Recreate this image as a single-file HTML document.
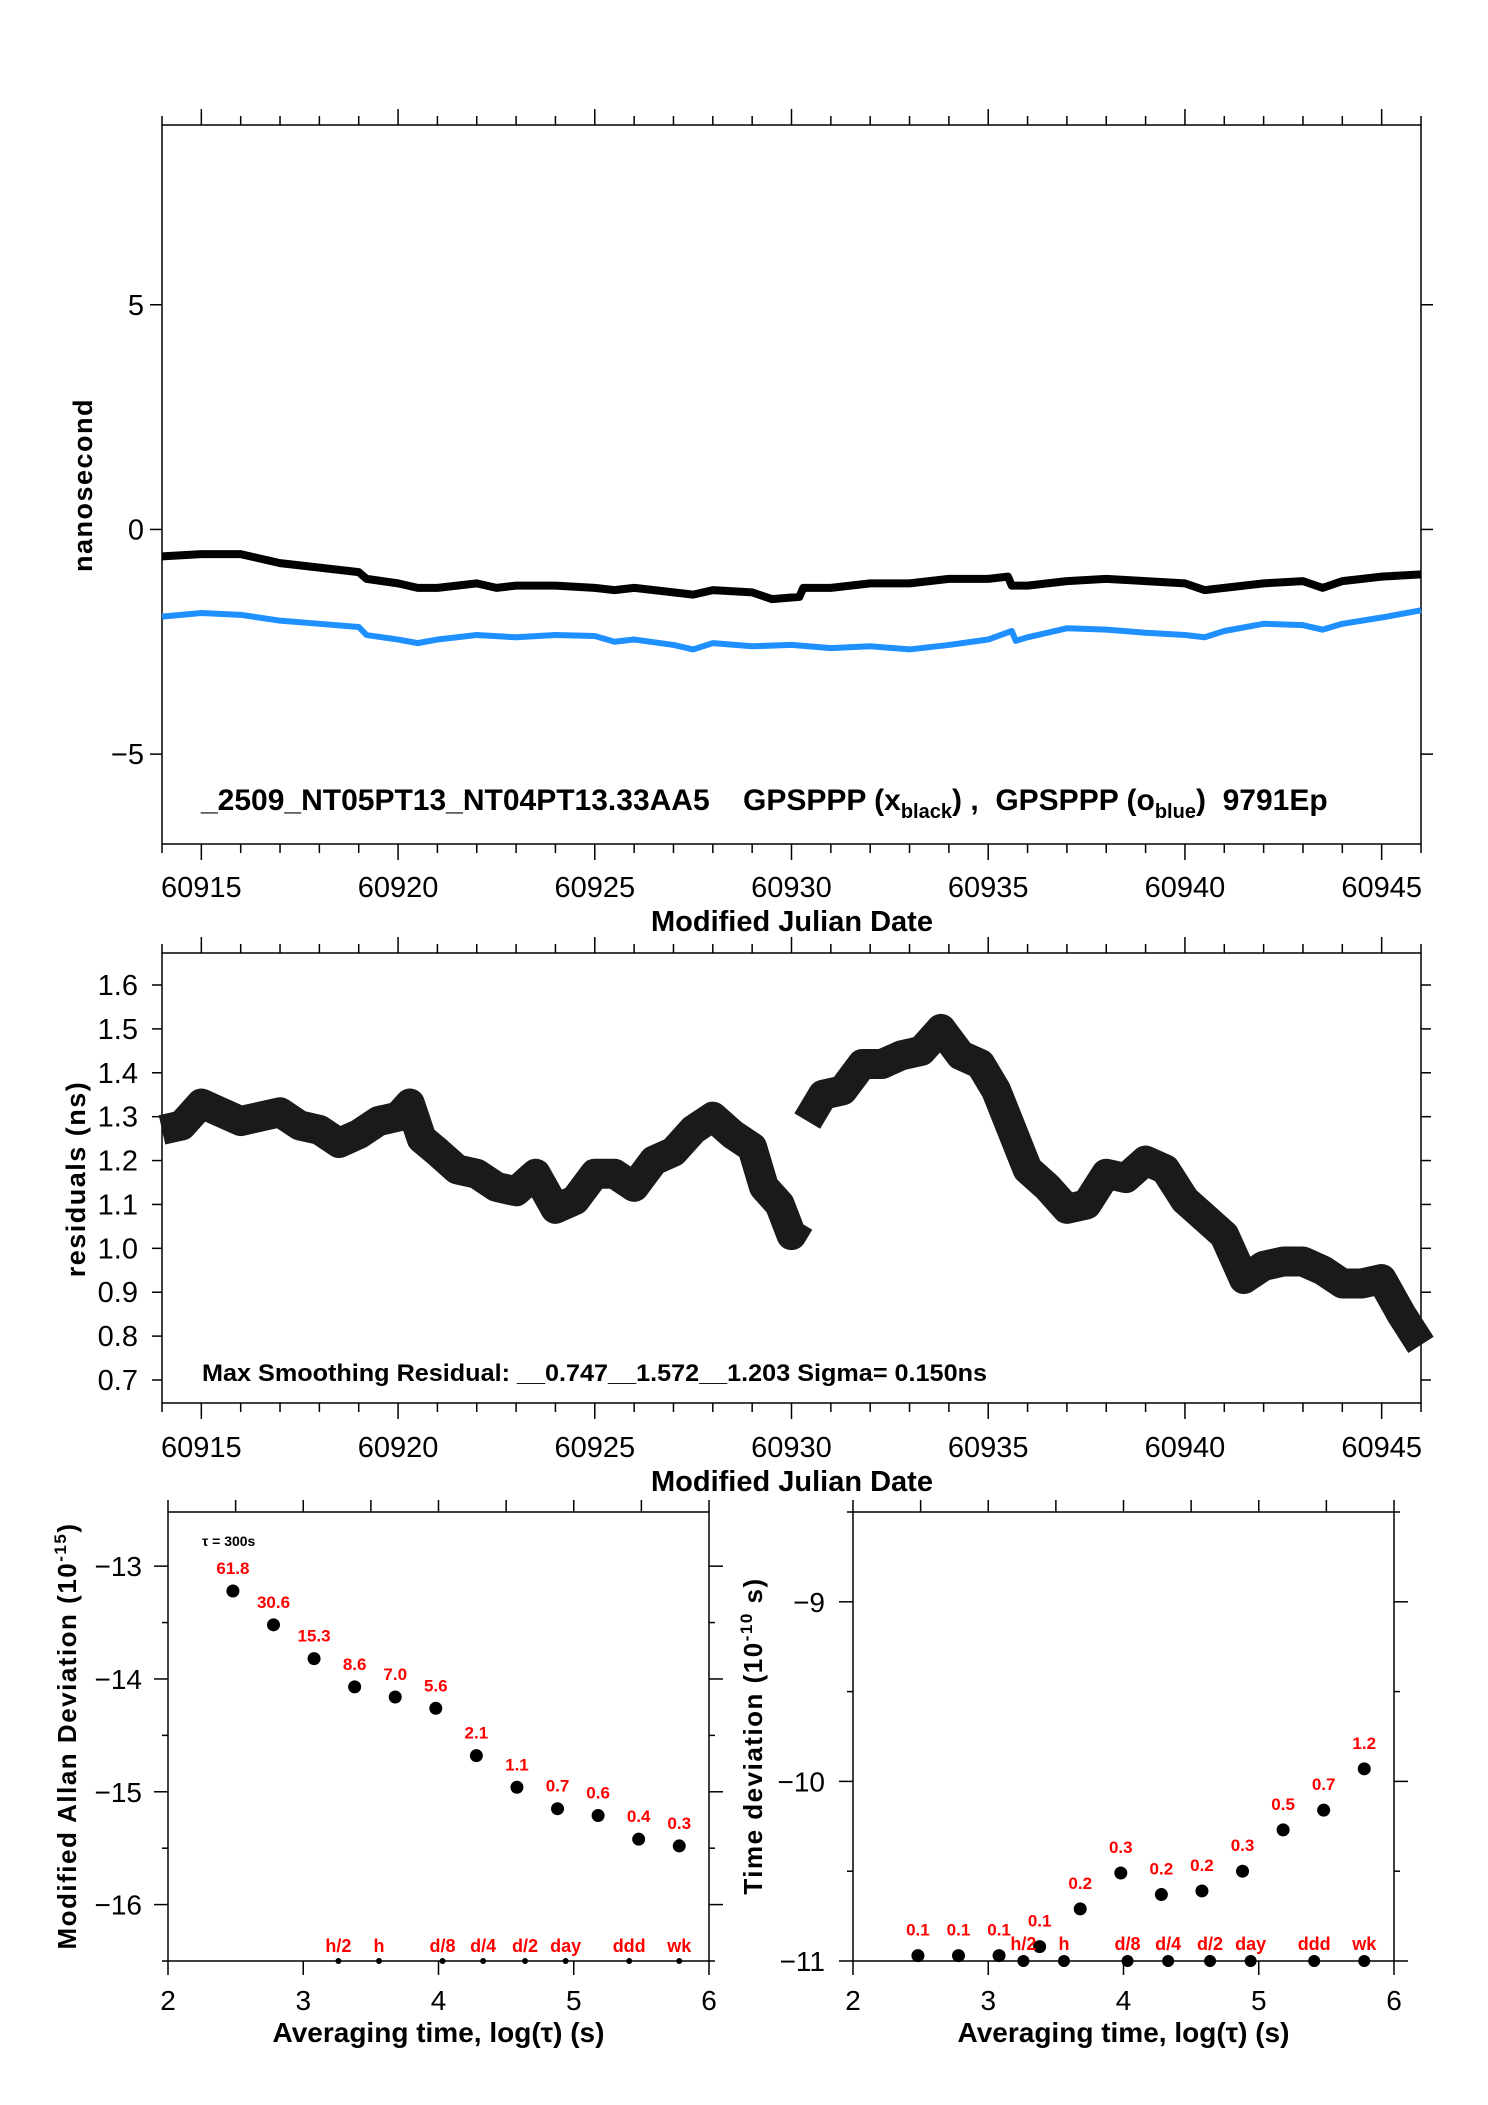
<!DOCTYPE html>
<html><head><meta charset="utf-8"><style>
html,body{margin:0;padding:0;background:#fff;}
svg{display:block;font-family:"Liberation Sans",sans-serif;}
</style></head><body>
<svg id="fig" width="1488" height="2105" viewBox="0 0 1488 2105" xmlns="http://www.w3.org/2000/svg">
<g id="g1"></g>
<g id="g2"></g>
<g id="g3"></g>
<g id="g4"></g>
</svg>
<script>
// ---- Data: phase chart ----
const phaseBlackX=[60914,60915,60916,60917,60918,60919,60919.2,60920,60920.5,60921,60922,60922.5,60923,60924,60925,60925.5,60926,60927,60927.5,60928,60929,60929.5,60930.2,60930.3,60931,60932,60933,60934,60935,60935.5,60935.6,60936,60937,60938,60939,60940,60940.5,60941,60942,60943,60943.5,60944,60945,60946];
const phaseBlackY=[-0.6,-0.55,-0.55,-0.75,-0.85,-0.95,-1.1,-1.2,-1.3,-1.3,-1.2,-1.3,-1.25,-1.25,-1.3,-1.35,-1.3,-1.4,-1.45,-1.35,-1.4,-1.55,-1.5,-1.3,-1.3,-1.2,-1.2,-1.1,-1.1,-1.05,-1.25,-1.25,-1.15,-1.1,-1.15,-1.2,-1.35,-1.3,-1.2,-1.15,-1.3,-1.15,-1.05,-1.0];
const phaseBlueX=[60914,60915,60916,60917,60918,60919,60919.2,60920,60920.5,60921,60922,60923,60924,60925,60925.5,60926,60927,60927.5,60928,60929,60930,60931,60932,60933,60934,60935,60935.6,60935.7,60936,60937,60938,60939,60940,60940.5,60941,60942,60943,60943.5,60944,60945,60946];
const phaseBlueY=[-1.94,-1.86,-1.9,-2.03,-2.1,-2.17,-2.35,-2.45,-2.53,-2.45,-2.35,-2.4,-2.35,-2.37,-2.5,-2.45,-2.57,-2.67,-2.53,-2.6,-2.57,-2.64,-2.6,-2.67,-2.57,-2.45,-2.26,-2.48,-2.4,-2.2,-2.23,-2.3,-2.35,-2.4,-2.26,-2.1,-2.13,-2.23,-2.1,-1.96,-1.8];
const phaseYTicks=[-5,0,5];
const mjdTicks=[60915,60920,60925,60930,60935,60940,60945];
// ---- Data: residuals ----
const resX1=[60914,60914.5,60915,60915.5,60916,60916.5,60917,60917.5,60918,60918.5,60919,60919.5,60920,60920.3,60920.6,60921,60921.5,60922,60922.5,60923,60923.5,60924,60924.5,60925,60925.5,60926,60926.5,60927,60927.5,60928,60928.5,60929,60929.3,60929.7,60930,60930.2];
const resY1=[1.27,1.28,1.33,1.31,1.29,1.30,1.31,1.28,1.27,1.24,1.26,1.29,1.30,1.33,1.25,1.22,1.18,1.17,1.14,1.13,1.17,1.09,1.11,1.17,1.17,1.14,1.20,1.22,1.27,1.30,1.26,1.23,1.14,1.10,1.03,1.06];
const resX2=[60930.4,60930.8,60931.3,60931.8,60932.3,60932.8,60933.3,60933.8,60934.3,60934.8,60935.2,60935.6,60936,60936.5,60937,60937.5,60938,60938.5,60939,60939.5,60940,60940.5,60941,60941.5,60942,60942.5,60943,60943.5,60944,60944.5,60945,60945.5,60946];
const resY2=[1.29,1.35,1.36,1.42,1.42,1.44,1.45,1.50,1.44,1.42,1.36,1.27,1.18,1.14,1.09,1.10,1.17,1.16,1.20,1.18,1.11,1.07,1.03,0.93,0.96,0.97,0.97,0.95,0.92,0.92,0.93,0.85,0.78];
const resYTicks=[0.7,0.8,0.9,1.0,1.1,1.2,1.3,1.4,1.5,1.6];
const resYLabels=["0.7","0.8","0.9","1.0","1.1","1.2","1.3","1.4","1.5","1.6"];
// ---- Data: stability ----
const logTau=[2.48,2.78,3.08,3.38,3.68,3.98,4.28,4.58,4.88,5.18,5.48,5.78];
const mdevVals=[-13.22,-13.52,-13.82,-14.07,-14.16,-14.26,-14.68,-14.96,-15.15,-15.21,-15.42,-15.48];
const mdevLabels=["61.8","30.6","15.3","8.6","7.0","5.6","2.1","1.1","0.7","0.6","0.4","0.3"];
const tdevVals=[-10.97,-10.97,-10.97,-10.92,-10.71,-10.51,-10.63,-10.61,-10.50,-10.27,-10.16,-9.93];
const tdevLabels=["0.1","0.1","0.1","0.1","0.2","0.3","0.2","0.2","0.3","0.5","0.7","1.2"];
const markNames=["h/2","h","d/8","d/4","d/2","day","ddd","wk"];
const markPos=[3.26,3.56,4.03,4.33,4.64,4.94,5.41,5.78];
const logTicks=[2,3,4,5,6];
const mdevYTicks=[-13,-14,-15,-16];
const tdevYTicks=[-9,-10,-11];

const NS="http://www.w3.org/2000/svg";
function mk(parent,tag,attrs,text){const e=document.createElementNS(NS,tag);for(const k in attrs)e.setAttribute(k,attrs[k]);if(text!==undefined)e.textContent=text;parent.appendChild(e);return e;}
function lin(d0,d1,r0,r1){return v=>r0+(v-d0)*(r1-r0)/(d1-d0);}

// ---------- Chart 1 ----------
(function(){
const g=document.getElementById('g1');
const L=162,R=1421,T=125,B=844;
const x=lin(60914,60946,L,R), y=lin(-7,9,B,T);
let e=mk(g,'rect',{x:L,y:T,width:R-L,height:B-T,fill:'none',stroke:'#000','stroke-width':1.5});

for(let d=60914;d<=60946;d++){const major=(d%5===0);const len=major?16:9;const xx=x(d);
 mk(g,'line',{x1:xx,y1:T,x2:xx,y2:T-len,stroke:'#000','stroke-width':1.5});
 mk(g,'line',{x1:xx,y1:B,x2:xx,y2:B+len,stroke:'#000','stroke-width':1.5});}
mjdTicks.forEach(d=>{e=mk(g,'text',{x:x(d),y:897,'font-size':29,'text-anchor':'middle'},String(d));
 });
phaseYTicks.forEach(v=>{const yy=y(v);
 mk(g,'line',{x1:L-12,y1:yy,x2:L,y2:yy,stroke:'#000','stroke-width':1.5});
 mk(g,'line',{x1:R,y1:yy,x2:R+12,y2:yy,stroke:'#000','stroke-width':1.5});
 e=mk(g,'text',{x:L-18,y:yy+10,'font-size':29,'text-anchor':'end'},v<0?'\u2212'+Math.abs(v):String(v));
 });
e=mk(g,'text',{x:792,y:931,'font-size':29,'font-weight':'bold','text-anchor':'middle'},'Modified Julian Date');

e=mk(g,'text',{x:0,y:0,'font-size':27,'font-weight':'bold','text-anchor':'middle','letter-spacing':1.5,transform:'translate(92,485) rotate(-90)'},'nanosecond');

e=mk(g,'polyline',{points:phaseBlueX.map((d,i)=>x(d)+','+y(phaseBlueY[i])).join(' '),fill:'none',stroke:'#1e90ff','stroke-width':6,'stroke-linejoin':'round'});

e=mk(g,'polyline',{points:phaseBlackX.map((d,i)=>x(d)+','+y(phaseBlackY[i])).join(' '),fill:'none',stroke:'#000','stroke-width':8,'stroke-linejoin':'round'});

const t=mk(g,'text',{x:201,y:810,'font-size':30,'font-weight':'bold'});

t.innerHTML='_2509_NT05PT13_NT04PT13.33AA5\u00a0\u00a0\u00a0\u00a0GPSPPP (x<tspan font-size="20" dy="8">black</tspan><tspan dy="-8">) ,\u00a0 GPSPPP (o</tspan><tspan font-size="20" dy="8">blue</tspan><tspan dy="-8">)\u00a0 9791Ep</tspan>';
})();

// ---------- Chart 2 ----------
(function(){
const g=document.getElementById('g2');
const L=162,R=1421,T=953,B=1403;
const x=lin(60914,60946,L,R), y=lin(0.7,1.6,1380,985);
let e=mk(g,'rect',{x:L,y:T,width:R-L,height:B-T,fill:'none',stroke:'#000','stroke-width':1.5});

for(let d=60914;d<=60946;d++){const major=(d%5===0);const len=major?16:9;const xx=x(d);
 mk(g,'line',{x1:xx,y1:T,x2:xx,y2:T-len,stroke:'#000','stroke-width':1.5});
 mk(g,'line',{x1:xx,y1:B,x2:xx,y2:B+len,stroke:'#000','stroke-width':1.5});}
mjdTicks.forEach(d=>{e=mk(g,'text',{x:x(d),y:1457,'font-size':29,'text-anchor':'middle'},String(d));
 });
resYTicks.forEach((v,i)=>{const yy=y(v);
 mk(g,'line',{x1:L-10,y1:yy,x2:L,y2:yy,stroke:'#000','stroke-width':1.5});
 mk(g,'line',{x1:R,y1:yy,x2:R+10,y2:yy,stroke:'#000','stroke-width':1.5});
 e=mk(g,'text',{x:L-24,y:yy+10,'font-size':29,'text-anchor':'end'},resYLabels[i]);
 });
e=mk(g,'text',{x:792,y:1491,'font-size':29,'font-weight':'bold','text-anchor':'middle'},'Modified Julian Date');

e=mk(g,'text',{x:0,y:0,'font-size':27,'font-weight':'bold','text-anchor':'middle','letter-spacing':1.5,transform:'translate(85,1179) rotate(-90)'},'residuals (ns)');

[[resX1,resY1],[resX2,resY2]].forEach(([xs,ys],k)=>{
 e=mk(g,'polyline',{points:xs.map((d,i)=>x(d)+','+y(ys[i])).join(' '),fill:'none',stroke:'#1a1a1a','stroke-width':30,'stroke-linejoin':'round','stroke-linecap':'butt'});
 });
e=mk(g,'text',{x:202,y:1381,'font-size':24,'font-weight':'bold',textLength:785,lengthAdjust:'spacingAndGlyphs'},'Max Smoothing Residual: __0.747__1.572__1.203  Sigma= 0.150ns');

})();

// ---------- Stability charts ----------
function stab(gid,L,R,ymin,ymax,yt,vals,labs,ylab,ylabX,tickLabX,isT){
const g=document.getElementById(gid);
const T=1512,B=1961;
const x=lin(2,6,L,R), y=lin(ymin,ymax,B,T);
let e=mk(g,'rect',{x:L,y:T,width:R-L,height:B-T,fill:'none',stroke:'#000','stroke-width':1.5});

for(let v=2;v<=6;v+=0.5){const xx=x(v);const major=Number.isInteger(v);
 mk(g,'line',{x1:xx,y1:T,x2:xx,y2:T-12,stroke:'#000','stroke-width':1.5});
 mk(g,'line',{x1:xx,y1:B,x2:xx,y2:B+(major?14:0),stroke:'#000','stroke-width':1.5});}
logTicks.forEach(v=>{e=mk(g,'text',{x:x(v),y:2010,'font-size':28,'text-anchor':'middle'},String(v));
 });
for(let v=Math.ceil(ymin*2)/2;v<=ymax+1e-9;v+=0.5){const yy=y(v);const major=Number.isInteger(v);const len=major?14:6;
 mk(g,'line',{x1:L-len,y1:yy,x2:L,y2:yy,stroke:'#000','stroke-width':1.5});
 mk(g,'line',{x1:R,y1:yy,x2:R+len,y2:yy,stroke:'#000','stroke-width':1.5});}
yt.forEach(v=>{e=mk(g,'text',{x:tickLabX,y:y(v)+10,'font-size':28,'text-anchor':'end'},'\u2212'+Math.abs(v));
 });
e=mk(g,'text',{x:(L+R)/2,y:2042,'font-size':28,'font-weight':'bold','text-anchor':'middle'},'Averaging time, log(\u03c4) (s)');

e=mk(g,'text',{x:0,y:0,'font-size':26,'font-weight':'bold','text-anchor':'middle','letter-spacing':1.5,transform:'translate('+ylabX+',1736) rotate(-90)'});

e.innerHTML=ylab;
logTau.forEach((v,i)=>{
 e=mk(g,'circle',{cx:x(v),cy:y(vals[i]),r:6.5,fill:'#000'});
 
 e=mk(g,'text',{x:x(v),y:y(vals[i])-(isT?20:17),'font-size':17,'font-weight':'bold',fill:'#ff0000','text-anchor':'middle'},labs[i]);
 });
markPos.forEach((v,i)=>{
 e=mk(g,'circle',{cx:x(v),cy:B,r:isT?6:3,fill:'#000'});
 
 e=mk(g,'text',{x:x(v),y:isT?1950:1952,'font-size':18,'font-weight':'bold',fill:'#ff0000','text-anchor':'middle'},markNames[i]);
 });
return g;}
const g3=stab('g3',168,709,-16.5,-12.52,mdevYTicks,mdevVals,mdevLabels,'Modified Allan Deviation (10<tspan font-size="17" dy="-10">-15</tspan><tspan dy="10">)</tspan>',76,142,false);
let tt=mk(g3,'text',{x:202,y:1546,'font-size':14,'font-weight':'bold'},'\u03c4 = 300s');

stab('g4',853,1394,-11,-8.5,tdevYTicks,tdevVals,tdevLabels,'Time deviation (10<tspan font-size="17" dy="-10">-10</tspan><tspan dy="10"> s)</tspan>',762,825,true);
</script>
</body></html>
